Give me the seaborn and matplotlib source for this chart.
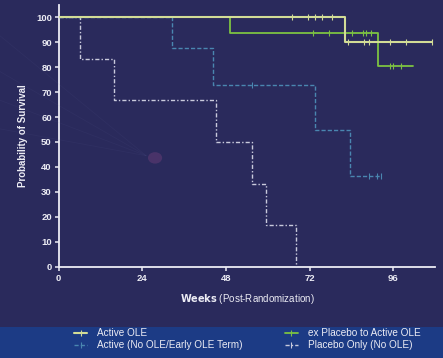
import matplotlib
matplotlib.use("Agg")
import matplotlib.pyplot as plt
from matplotlib.lines import Line2D
from matplotlib.patches import Rectangle, Circle
import pandas as pd
import seaborn as sns

# Kaplan-Meier step points (weeks, survival %) and censoring times per arm
ole_t = [0, 82, 107]
ole_s = [100, 90, 90]
ole_cens = [67, 71.5, 73.5, 75.5, 78.5, 83, 87.5, 89, 95, 99.5, 107]

expl_t = [0, 49, 91.5, 101.5]
expl_s = [100, 93.8, 80.6, 80.6]
expl_cens = [73, 77.5, 84, 87.3, 88.2, 89.7, 95, 96, 98.3]

noole_t = [0, 32.5, 44.3, 73.6, 83.5, 92.5]
noole_s = [100, 87.5, 72.9, 54.7, 36.5, 36.5]
noole_cens = [55.5, 89, 91.3, 92.5]

pbo_t = [0, 6, 16, 45, 55.5, 59.5, 68]
pbo_s = [100, 83.3, 66.7, 50, 33.3, 16.7, 0]
pbo_cens = []

labels = ["Active OLE", "ex Placebo to Active OLE",
          "Active (No OLE/Early OLE Term)", "Placebo Only (No OLE)"]
x_ticks = [0, 24, 48, 72, 96]
y_ticks = list(range(0, 101, 10))

BG = "#2a2a5c"
BAND = "#1c3b85"
FG = "#ececf4"
colors = ["#d2dc96", "#7cc242", "#4a86b0", "#c9cadc"]
styles = ["-", "-", (0, (3, 1.5)), (0, (3, 1.5, 1, 1.5))]
widths = [1.5, 1.3, 1.0, 1.0]

sns.set_theme(style="white")
plt.rcParams["font.family"] = ["Liberation Sans", "DejaVu Sans"]

fig = plt.figure(figsize=(4.43, 3.58), dpi=100)
fig.patch.set_facecolor(BG)

# legend band along the bottom and faint background decorations
fig.patches.append(Rectangle((0, 0), 1, 31 / 358, transform=fig.transFigure,
                             facecolor=BAND, edgecolor="none", zorder=0))
for y0 in [0.90, 0.80, 0.72, 0.64]:
    fig.lines.append(Line2D([0.0, 0.33], [y0, 0.565], transform=fig.transFigure,
                            color="#6a6fa8", alpha=0.08, lw=0.6, zorder=0))
fig.patches.append(Circle((0.35, 0.559), 0.016, transform=fig.transFigure,
                          facecolor="#5e3a72", edgecolor="none", alpha=0.6, zorder=0))

ax = fig.add_axes([0.1325, 0.255, 0.85, 0.7316])
ax.set_facecolor("none")


def surv_at(t_list, s_list, c):
    s = s_list[0]
    for t, v in zip(t_list, s_list):
        if t <= c:
            s = v
    return s


arms = [(ole_t, ole_s, ole_cens), (expl_t, expl_s, expl_cens),
        (noole_t, noole_s, noole_cens), (pbo_t, pbo_s, pbo_cens)]

for i, (t, s, cens) in enumerate(arms):
    df = pd.DataFrame({"week": t, "surv": s})
    sns.lineplot(data=df, x="week", y="surv", drawstyle="steps-post",
                 color=colors[i], linestyle=styles[i], linewidth=widths[i],
                 estimator=None, ax=ax, zorder=3 - i * 0.1)
    if cens:
        cdf = pd.DataFrame({"week": cens,
                            "surv": [surv_at(t, s, c) for c in cens]})
        sns.scatterplot(data=cdf, x="week", y="surv", marker="|", s=22,
                        color=colors[i], linewidth=0.8, ax=ax, zorder=4)

ax.set_xlim(0, 108)
ax.set_ylim(0, 105)
ax.set_xticks(x_ticks)
ax.set_yticks(y_ticks)
for side in ["top", "right"]:
    ax.spines[side].set_visible(False)
for side in ["left", "bottom"]:
    ax.spines[side].set_color(FG)
    ax.spines[side].set_linewidth(1.3)
ax.tick_params(colors=FG, length=3, width=1.1, direction="out",
               labelsize=6.8, pad=2, left=True, bottom=True)
for lab in ax.get_xticklabels() + ax.get_yticklabels():
    lab.set_fontweight("bold")
ax.set_xlabel(r"$\mathbf{Weeks}$ (Post-Randomization)", color=FG, fontsize=7,
              labelpad=7)
ax.set_ylabel("Probability of Survival", color=FG, fontsize=7,
              fontweight="bold", labelpad=6)

handles = [Line2D([], [], color=colors[i], linestyle=styles[i], lw=widths[i],
                  marker="|", markersize=5, markeredgewidth=0.8)
           for i in range(4)]
order = [0, 2, 1, 3]
leg = fig.legend([handles[k] for k in order], [labels[k] for k in order],
                 ncol=2, loc="center left", bbox_to_anchor=(74 / 443, 19 / 358),
                 frameon=False, fontsize=7.2, handlelength=1.3,
                 handletextpad=1.0, columnspacing=4.2, labelspacing=0.2,
                 borderpad=0, borderaxespad=0)
for txt in leg.get_texts():
    txt.set_color(FG)

fig.savefig("out.png", dpi=100, facecolor=BG)
